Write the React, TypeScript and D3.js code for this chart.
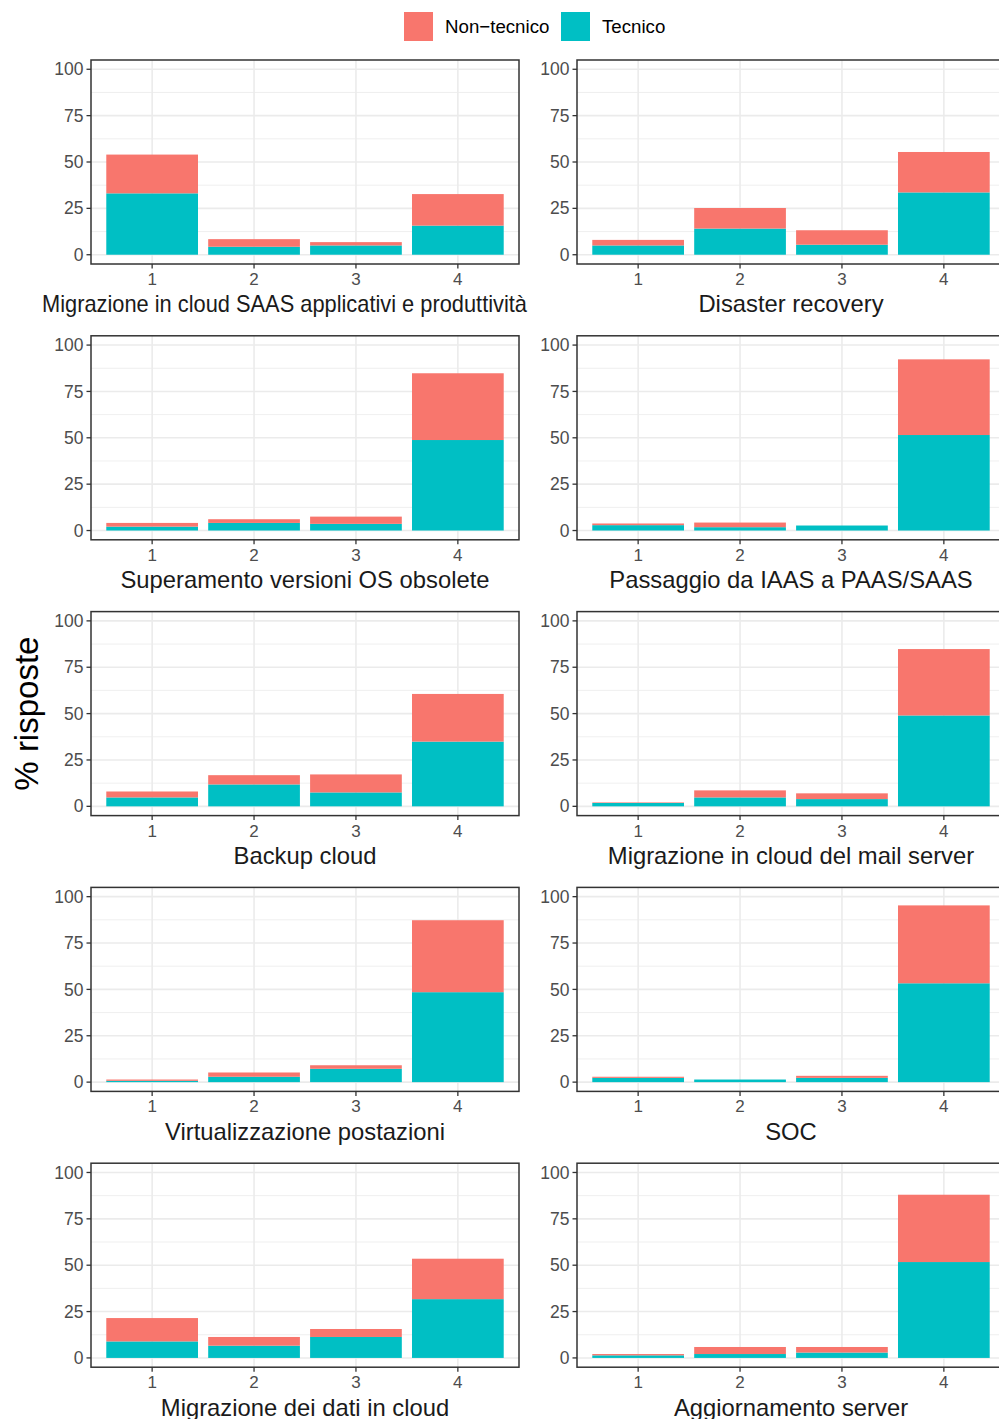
import React from "react";
import * as d3 from "d3";

const categories = ["1", "2", "3", "4"];
const panelTitles = [
  "Migrazione in cloud SAAS applicativi e produttività",
  "Disaster recovery",
  "Superamento versioni OS obsolete",
  "Passaggio da IAAS a PAAS/SAAS",
  "Backup cloud",
  "Migrazione in cloud del mail server",
  "Virtualizzazione postazioni",
  "SOC",
  "Migrazione dei dati in cloud",
  "Aggiornamento server",
];
const tecnico = [
  [33.1, 4.3, 5.0, 15.7],
  [5.0, 14.1, 5.4, 33.6],
  [2.1, 4.1, 3.6, 48.8],
  [2.9, 1.8, 2.7, 51.5],
  [4.8, 11.8, 7.5, 34.9],
  [1.8, 4.8, 3.9, 49.0],
  [0.7, 2.9, 7.2, 48.5],
  [2.3, 1.4, 2.3, 53.3],
  [8.9, 6.6, 11.3, 31.7],
  [1.4, 2.1, 2.9, 51.7],
];
const nonTecnico = [
  [20.9, 4.1, 1.8, 17.0],
  [3.0, 11.1, 7.8, 21.8],
  [2.0, 2.0, 3.9, 36.0],
  [0.9, 2.5, 0.0, 40.8],
  [3.2, 5.0, 9.7, 25.7],
  [0.3, 3.8, 3.1, 35.8],
  [0.7, 2.3, 1.9, 38.8],
  [0.6, 0.0, 1.1, 42.0],
  [12.6, 4.7, 4.3, 21.8],
  [0.7, 3.8, 3.0, 36.3],
];
const yTicks = [0, 25, 50, 75, 100];
const yMinor = [12.5, 37.5, 62.5, 87.5];
const seriesNames = ["Non\u2212tecnico", "Tecnico"];
const seriesColors = ["#F8766D", "#00BFC4"];

const W = 999;
const H = 1419;
const colX = [91, 577];
const panelW = 428;
const panelH = 204;
const rowTop0 = 60;
const rowStep = 275.8;
const FONT = "Liberation Sans, Arial, Helvetica, sans-serif";

function Panel({ idx }: { idx: number }) {
  const col = idx % 2;
  const row = Math.floor(idx / 2);
  const x0 = colX[col];
  const y0 = rowTop0 + row * rowStep;
  const xc = d3.scaleLinear().domain([0.4, 4.6]).range([x0, x0 + panelW]);
  const unit = panelW / 4.2;
  const bw = unit * 0.9;
  const y = d3.scaleLinear().domain([-5, 105]).range([y0 + panelH, y0]);

  const stackData = categories.map((c, i) => ({
    cat: c,
    Tecnico: tecnico[idx][i],
    NonTecnico: nonTecnico[idx][i],
  }));
  const stack = d3.stack<any>().keys(["Tecnico", "NonTecnico"])(stackData);
  const isLong = idx === 0;
  const titleX = isLong ? x0 + panelW / 2 - 20.5 : x0 + panelW / 2;

  return (
    <g>
      <rect x={x0} y={y0} width={panelW} height={panelH} fill="white" />
      {yMinor.map((t) => (
        <line key={"m" + t} x1={x0} x2={x0 + panelW} y1={y(t)} y2={y(t)} stroke="#EBEBEB" strokeWidth={0.8} />
      ))}
      {yTicks.map((t) => (
        <line key={"g" + t} x1={x0} x2={x0 + panelW} y1={y(t)} y2={y(t)} stroke="#EBEBEB" strokeWidth={1.6} />
      ))}
      {categories.map((c, i) => (
        <line key={"v" + c} x1={xc(i + 1)} x2={xc(i + 1)} y1={y0} y2={y0 + panelH} stroke="#EBEBEB" strokeWidth={1.6} />
      ))}
      {stack.map((layer, li) =>
        layer.map((d, i) => (
          <rect
            key={li + "-" + i}
            x={xc(i + 1) - bw / 2}
            width={bw}
            y={y(d[1])}
            height={Math.max(0, y(d[0]) - y(d[1]))}
            fill={li === 0 ? seriesColors[1] : seriesColors[0]}
          />
        ))
      )}
      <rect x={x0} y={y0} width={panelW} height={panelH} fill="none" stroke="#333333" strokeWidth={1.5} />
      {yTicks.map((t) => (
        <g key={"yt" + t}>
          <line x1={x0 - 4.5} x2={x0} y1={y(t)} y2={y(t)} stroke="#333333" strokeWidth={1.3} />
          <text x={x0 - 7.5} y={y(t)} dy="0.35em" textAnchor="end" fontSize={17.5} fill="#4D4D4D" fontFamily={FONT}>
            {t}
          </text>
        </g>
      ))}
      {categories.map((c, i) => (
        <g key={"xt" + c}>
          <line x1={xc(i + 1)} x2={xc(i + 1)} y1={y0 + panelH} y2={y0 + panelH + 4.5} stroke="#333333" strokeWidth={1.3} />
          <text x={xc(i + 1)} y={y0 + panelH + 15} dy="0.35em" textAnchor="middle" fontSize={17} fill="#4D4D4D" fontFamily={FONT}>
            {c}
          </text>
        </g>
      ))}
      <text
        x={titleX}
        y={y0 + panelH + 40}
        dy="0.35em"
        textAnchor="middle"
        fontSize={23.8}
        fill="#1A1A1A"
        fontFamily={FONT}
        {...(isLong ? { textLength: 485, lengthAdjust: "spacingAndGlyphs" } : {})}
      >
        {panelTitles[idx]}
      </text>
    </g>
  );
}

export default function App() {
  return (
    <svg width={W} height={H} style={{ position: "absolute", left: 0, top: 0, background: "white" }}>
      <rect x={0} y={0} width={W} height={H} fill="white" />
      {panelTitles.map((_, i) => (
        <Panel key={i} idx={i} />
      ))}
      <text
        transform={`translate(26, ${(rowTop0 + rowTop0 + 4 * rowStep + panelH) / 2}) rotate(-90)`}
        textAnchor="middle"
        dy="0.35em"
        fontSize={33}
        fill="#000"
        fontFamily={FONT}
      >
        % risposte
      </text>
      <g>
        <rect x={404} y={12} width={29} height={29} fill={seriesColors[0]} />
        <text x={445} y={26.5} dy="0.35em" fontSize={18.7} fill="#000" fontFamily={FONT}>
          {seriesNames[0]}
        </text>
        <rect x={561} y={12} width={29} height={29} fill={seriesColors[1]} />
        <text x={602} y={26.5} dy="0.35em" fontSize={18.7} fill="#000" fontFamily={FONT}>
          {seriesNames[1]}
        </text>
      </g>
    </svg>
  );
}
